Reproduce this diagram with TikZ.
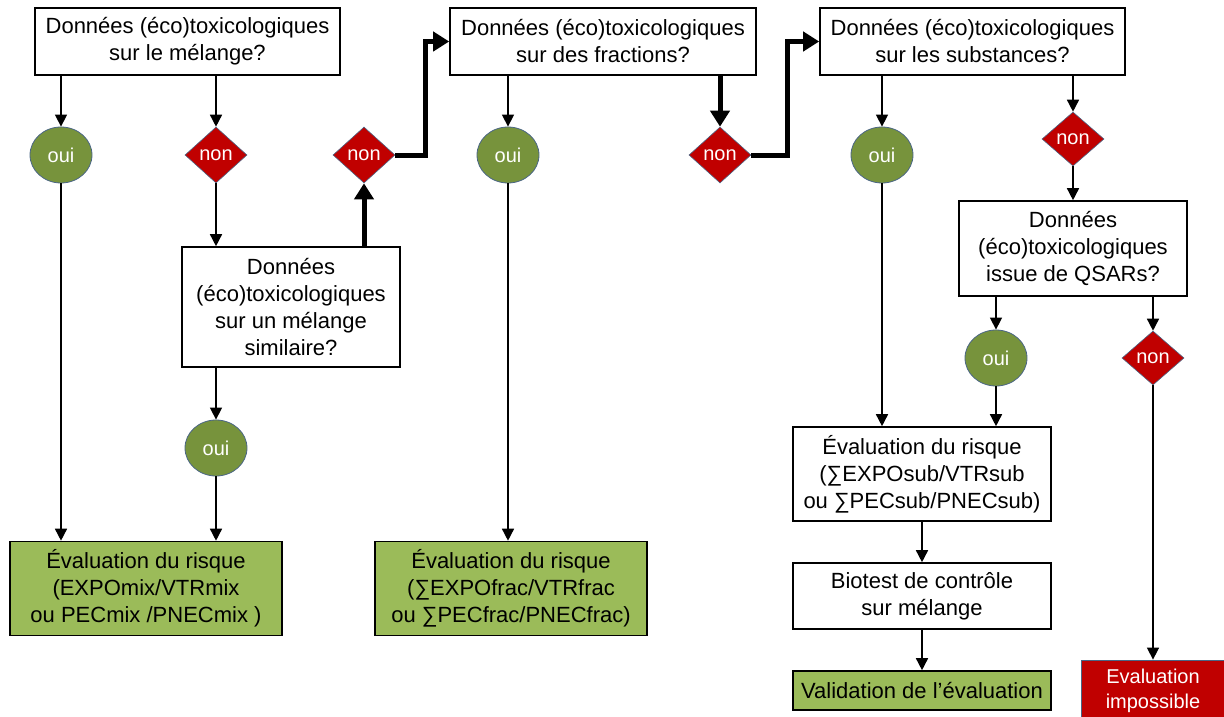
\documentclass[tikz,border=0pt]{standalone}
\usepackage{fontspec}
\setmainfont{Liberation Sans}
\usetikzlibrary{shapes.geometric,arrows.meta}
\definecolor{ouigreen}{HTML}{77933C}
\definecolor{evalgreen}{HTML}{9BBB59}
\definecolor{nonred}{HTML}{C00000}
\definecolor{shapeedge}{HTML}{4A6585}

\begin{document}
\begin{tikzpicture}[x=1pt,y=-1pt,
  qbox/.style={draw=black, line width=1.6pt, fill=white, inner sep=0pt, align=center,
               font=\fontsize{22}{27}\selectfont},
  evalbox/.style={qbox, fill=evalgreen},
  ouinode/.style={ellipse, draw=shapeedge, line width=0.8pt, fill=ouigreen, text=white,
                  minimum width=62pt, minimum height=56pt, inner sep=0pt,
                  font=\fontsize{20}{22}\selectfont},
  nonnode/.style={diamond, draw=shapeedge, line width=0.6pt, fill=nonred, text=white,
                  minimum width=62pt, minimum height=56pt, inner sep=0pt,
                  font=\fontsize{20}{22}\selectfont},
  flow/.style={line width=1.5pt, -{Triangle[length=12pt,width=12pt]}},
  bigflow/.style={line width=5pt, line join=miter, -{Triangle[length=16pt,width=19pt]}}]

\useasboundingbox (0,0) rectangle (1224,717);
\clip (0,0) rectangle (1224,717);

% --- question boxes along the top ---
\node[qbox, minimum width=305pt, minimum height=67pt] (A) at (187.5,41.5)
  {Données (éco)toxicologiques\\sur le mélange?};
\node[qbox, minimum width=306pt, minimum height=67pt] (B) at (603,41.5)
  {Données (éco)toxicologiques\\sur des fractions?};
\node[qbox, minimum width=305pt, minimum height=67pt] (C) at (972.5,41.5)
  {Données (éco)toxicologiques\\sur les substances?};

% --- answers ---
\node[ouinode] (oui1) at (61,155) {oui};
\node[nonnode] (non1) at (216,155) {non};
\node[nonnode] (non2) at (364,155) {non};
\node[ouinode] (oui2) at (508,155) {oui};
\node[nonnode] (non3) at (720,155) {non};
\node[ouinode] (oui4) at (882,155) {oui};
\node[nonnode, minimum height=54pt] (non4) at (1073,139) {non};

% --- second-level questions ---
\node[qbox, minimum width=218pt, minimum height=120pt] (D) at (291,307)
  {Données\\(éco)toxicologiques\\sur un mélange\\similaire?};
\node[qbox, minimum width=228pt, minimum height=95pt] (E) at (1073,248.5)
  {Données\\(éco)toxicologiques\\issue de QSARs?};

\node[ouinode] (oui3) at (216,448) {oui};
\node[ouinode] (oui5) at (996,358) {oui};
\node[nonnode, minimum height=54pt] (non5) at (1153,358) {non};

% --- outcomes ---
\node[evalbox, minimum width=272pt, minimum height=94pt] (ev1) at (146,588.5)
  {Évaluation du risque\\(EXPOmix/VTRmix\\ou PECmix /PNECmix )};
\node[evalbox, minimum width=272pt, minimum height=94pt] (ev2) at (511,588.5)
  {Évaluation du risque\\(∑EXPOfrac/VTRfrac\\ou ∑PECfrac/PNECfrac)};
\node[qbox, minimum width=258pt, minimum height=94pt] (F) at (922,474)
  {Évaluation du risque\\(∑EXPOsub/VTRsub\\ou ∑PECsub/PNECsub)};
\node[qbox, minimum width=258pt, minimum height=66pt] (G) at (922,596)
  {Biotest de contrôle\\sur mélange};
\node[evalbox, minimum width=258pt, minimum height=39pt] (H) at (922,690.5)
  {Validation de l’évaluation};
\node[rectangle, draw=shapeedge, line width=0.8pt, fill=nonred, text=white, align=center,
      inner sep=0pt, minimum width=144pt, minimum height=61pt,
      font=\fontsize{20}{25}\selectfont] (I) at (1153,690.5)
  {Evaluation\\impossible};

% --- thin connectors ---
\draw[flow] (oui1 |- A.south) -- (oui1.north);
\draw[flow] (non1 |- A.south) -- (non1.north);
\draw[flow] (non1.south) -- (non1 |- D.north);
\draw[flow] (oui1.south) -- (oui1 |- ev1.north);
\draw[flow] (oui3 |- D.south) -- (oui3.north);
\draw[flow] (oui3.south) -- (oui3 |- ev1.north);
\draw[flow] (oui2 |- B.south) -- (oui2.north);
\draw[flow] (oui2.south) -- (oui2 |- ev2.north);
\draw[flow] (oui4 |- C.south) -- (oui4.north);
\draw[flow] (non4 |- C.south) -- (non4.north);
\draw[flow] (non4.south) -- (E.north);
\draw[flow] (oui5 |- E.south) -- (oui5.north);
\draw[flow] (non5 |- E.south) -- (non5.north);
\draw[flow] (oui4.south) -- (oui4 |- F.north);
\draw[flow] (oui5.south) -- (oui5 |- F.north);
\draw[flow] (non5.south) -- (non5 |- I.north);
\draw[flow] (F.south) -- (G.north);
\draw[flow] (G.south) -- (H.north);

% --- thick "non" path ---
\draw[bigflow] (non2 |- D.north) -- (non2.south);
\draw[bigflow] (non2.east) -- (425,155) |- (B.west);
\draw[bigflow] (non3 |- B.south) -- (non3.north);
\draw[bigflow] (non3.east) -- (787,155) |- (C.west);

\end{tikzpicture}
\end{document}
